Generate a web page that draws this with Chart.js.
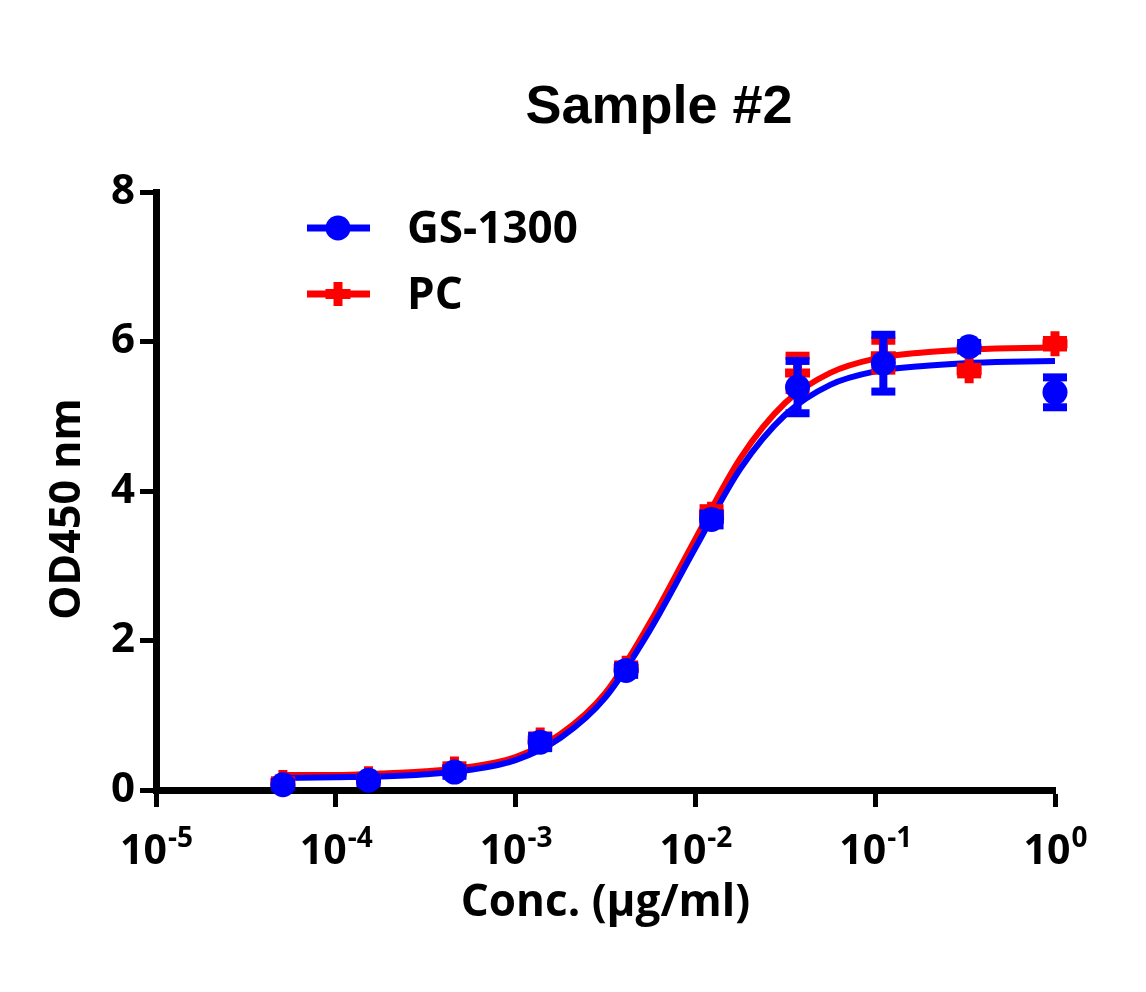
<!DOCTYPE html>
<html>
<head>
<meta charset="utf-8">
<script src="https://cdn.jsdelivr.net/npm/chart.js@4.4.1/dist/chart.umd.min.js"></script>
<style>
  html, body { margin: 0; padding: 0; background: #ffffff; }
  #wrap { width: 1146px; height: 992px; position: relative; }
</style>
</head>
<body>
<div id="wrap"><canvas id="c" width="1146" height="992"></canvas></div>
<script>
// ---------- data ----------
const chartTitle = 'Sample #2';
const xAxisTitle = 'Conc. (µg/ml)';
const yAxisTitle = 'OD450 nm';
const seriesNames = ['GS-1300', 'PC'];

// measured concentrations (µg/ml)
const conc = [0.0000508, 0.000152, 0.000457, 0.00137, 0.00412, 0.0123, 0.037, 0.111, 0.333, 1];
// GS-1300 (blue circles) mean and error
const gsValues = [0.07, 0.13, 0.24, 0.64, 1.60, 3.62, 5.39, 5.71, 5.93, 5.32];
const gsErrors = [0.03, 0.04, 0.05, 0.08, 0.06, 0.08, 0.35, 0.38, 0.05, 0.20];
// PC (red crosses) mean and error
const pcValues = [0.10, 0.15, 0.28, 0.67, 1.63, 3.69, 5.58, 5.81, 5.61, 5.97];
const pcErrors = [0.03, 0.04, 0.05, 0.06, 0.05, 0.08, 0.23, 0.20, 0.05, 0.05];

// fitted curves
const fitConc = [0.0000508, 0.0001, 0.000178, 0.000316, 0.000562, 0.001, 0.00178, 0.00316, 0.00562, 0.01, 0.0178, 0.0316, 0.0562, 0.1, 0.178, 0.316, 0.562, 1];
const gsFit = [0.16, 0.17, 0.18, 0.21, 0.27, 0.40, 0.70, 1.24, 2.15, 3.24, 4.30, 5.02, 5.42, 5.60, 5.67, 5.71, 5.73, 5.74];
const pcFit = [0.20, 0.20, 0.22, 0.25, 0.31, 0.44, 0.75, 1.30, 2.25, 3.36, 4.44, 5.18, 5.58, 5.77, 5.85, 5.89, 5.91, 5.92];

// axes
const xTickValues = [0.00001, 0.0001, 0.001, 0.01, 0.1, 1];
const xTickBase = '10';
const xTickExponents = ['-5', '-4', '-3', '-2', '-1', '0'];
const yMin = 0, yMax = 8, yStep = 2;

// ---------- styles ----------
const BLUE = '#0000ff';
const RED = '#ff0000';
const FONT = '"Open Sans", "Noto Sans", sans-serif';

const pts = (xs, ys) => xs.map((x, i) => ({ x: x, y: ys[i] }));

const errorBarPlugin = {
  id: 'errorBars',
  beforeDatasetDraw(chart, args) {
    const ds = chart.data.datasets[args.index];
    if (!ds.errors) return;
    const ctx = chart.ctx;
    const xs = chart.scales.x, ys = chart.scales.y;
    ctx.save();
    ctx.fillStyle = ds.borderColor;
    ds.data.forEach((p, i) => {
      const e = ds.errors[i];
      const px = xs.getPixelForValue(p.x);
      const yt = ys.getPixelForValue(p.y + e);
      const yb = ys.getPixelForValue(p.y - e);
      ctx.fillRect(px - 4, yt, 8, yb - yt);
      ctx.fillRect(px - 12, yt - 4, 24, 8);
      ctx.fillRect(px - 12, yb - 4, 24, 8);
    });
    ctx.restore();
  }
};

const decorPlugin = {
  id: 'decor',
  afterDraw(chart) {
    const ctx = chart.ctx;
    const xs = chart.scales.x;
    ctx.save();
    // title
    ctx.fillStyle = '#000';
    ctx.font = 'bold 54px "Liberation Sans", Arial, sans-serif';
    ctx.textAlign = 'center';
    ctx.textBaseline = 'alphabetic';
    ctx.fillText(chartTitle, 659, 123);

    // x tick labels with superscript exponents
    const baseFont = 'bold 41px ' + FONT;
    const supFont = 'bold 28px ' + FONT;
    xTickValues.forEach((v, i) => {
      const px = xs.getPixelForValue(v);
      ctx.font = baseFont;
      const wb = ctx.measureText(xTickBase).width;
      ctx.font = supFont;
      const we = ctx.measureText(xTickExponents[i]).width;
      const left = px - (wb + we) / 2;
      ctx.textAlign = 'left';
      ctx.font = baseFont;
      ctx.fillText(xTickBase, left, 864);
      ctx.font = supFont;
      ctx.fillText(xTickExponents[i], left + wb + 1, 847);
    });

    // y axis title
    ctx.save();
    ctx.translate(80, 509);
    ctx.rotate(-Math.PI / 2);
    ctx.font = 'bold 43px ' + FONT;
    ctx.textAlign = 'center';
    ctx.textBaseline = 'alphabetic';
    ctx.fillText(yAxisTitle, 0, 0);
    ctx.restore();

    // legend
    const rows = [
      { y: 228, color: BLUE, style: 'circle', name: seriesNames[0] },
      { y: 294, color: RED, style: 'cross', name: seriesNames[1] }
    ];
    rows.forEach(r => {
      ctx.strokeStyle = r.color;
      ctx.fillStyle = r.color;
      ctx.lineWidth = 7;
      ctx.beginPath();
      ctx.moveTo(307, r.y);
      ctx.lineTo(370, r.y);
      ctx.stroke();
      if (r.style === 'circle') {
        ctx.beginPath();
        ctx.arc(338, r.y, 12.5, 0, Math.PI * 2);
        ctx.fill();
      } else {
        ctx.fillRect(338 - 12.5, r.y - 5, 25, 10);
        ctx.fillRect(338 - 4.5, r.y - 12, 9, 24);
      }
      ctx.fillStyle = '#000';
      ctx.font = 'bold 44px ' + FONT;
      ctx.textAlign = 'left';
      ctx.textBaseline = 'middle';
      ctx.fillText(r.name, 407, r.y + 2);
    });
    ctx.restore();
  }
};

new Chart(document.getElementById('c'), {
  type: 'line',
  data: {
    datasets: [
      {
        label: seriesNames[0],
        data: pts(conc, gsValues),
        errors: gsErrors,
        showLine: false,
        borderColor: BLUE,
        backgroundColor: BLUE,
        pointStyle: 'circle',
        pointRadius: 12.5,
        pointBorderWidth: 0,
        pointBackgroundColor: BLUE,
        clip: false,
        order: 0
      },
      {
        label: seriesNames[1],
        data: pts(conc, pcValues),
        errors: pcErrors,
        showLine: false,
        borderColor: RED,
        backgroundColor: RED,
        pointStyle: 'cross',
        pointRadius: 12.5,
        pointBorderWidth: 9,
        pointBorderColor: RED,
        clip: false,
        order: 1
      },
      {
        label: seriesNames[0] + ' fit',
        data: pts(fitConc, gsFit),
        borderColor: BLUE,
        borderWidth: 6,
        pointRadius: 0,
        cubicInterpolationMode: 'monotone',
        fill: false,
        clip: false,
        order: 2
      },
      {
        label: seriesNames[1] + ' fit',
        data: pts(fitConc, pcFit),
        borderColor: RED,
        borderWidth: 6,
        pointRadius: 0,
        cubicInterpolationMode: 'monotone',
        fill: false,
        clip: false,
        order: 3
      }
    ]
  },
  options: {
    responsive: false,
    animation: false,
    events: [],
    layout: { padding: { top: 192, right: 91, bottom: 0, left: 0 } },
    plugins: {
      legend: { display: false },
      tooltip: { enabled: false },
      title: { display: false }
    },
    scales: {
      x: {
        type: 'logarithmic',
        min: xTickValues[0],
        max: xTickValues[xTickValues.length - 1],
        afterBuildTicks: s => { s.ticks = xTickValues.map(v => ({ value: v })); },
        afterFit: s => { s.height = 202; },
        ticks: { autoSkip: false, maxRotation: 0, callback: () => '' , font: { size: 1 } },
        grid: { display: true, drawOnChartArea: false, drawTicks: true, tickLength: 17, tickWidth: 5, tickColor: '#000', color: '#000' },
        border: { display: true, color: '#000', width: 7 },
        title: {
          display: true,
          text: xAxisTitle,
          color: '#000',
          font: { family: FONT, size: 44, weight: 'bold' },
          padding: { top: 0, bottom: 62 }
        }
      },
      y: {
        type: 'linear',
        min: yMin,
        max: yMax,
        afterFit: s => { s.width = 156; },
        ticks: {
          stepSize: yStep,
          padding: 5,
          color: '#000',
          font: { family: FONT, size: 42, weight: 'bold' }
        },
        grid: { display: true, drawOnChartArea: false, drawTicks: true, tickLength: 16, tickWidth: 5, tickColor: '#000', color: '#000' },
        border: { display: true, color: '#000', width: 7 }
      }
    }
  },
  plugins: [errorBarPlugin, decorPlugin]
});
</script>
</body>
</html>
